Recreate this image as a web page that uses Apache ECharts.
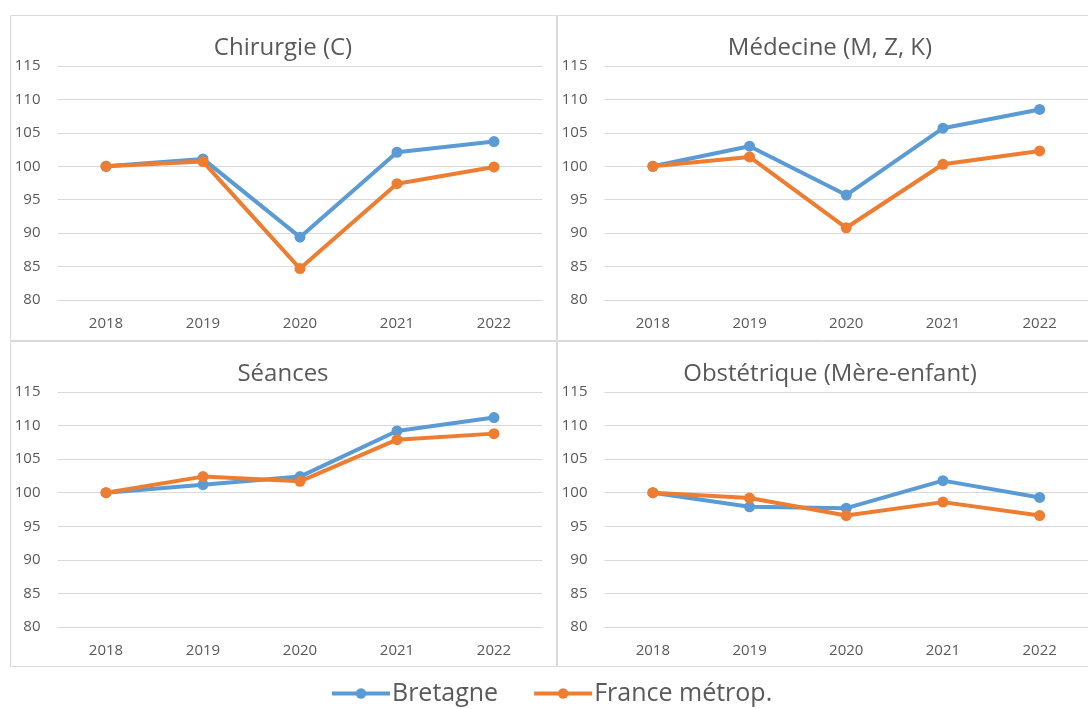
<!DOCTYPE html>
<html>
<head>
<meta charset="utf-8">
<script src="https://cdn.jsdelivr.net/npm/echarts@6/dist/echarts.min.js"></script>
<style>
  html, body { margin: 0; padding: 0; background: #fff; }
  #chart { width: 1088px; height: 709px; }
</style>
</head>
<body>
<div id="chart"></div>
<script>
// Indices base 100 en 2018
const years = ['2018', '2019', '2020', '2021', '2022'];
const panelTitles = ['Chirurgie (C)', 'Médecine (M, Z, K)', 'Séances', 'Obstétrique (Mère-enfant)'];
const seriesNames = ['Bretagne', 'France métrop.'];

const chirurgieBretagne = [100, 101.1, 89.4, 102.1, 103.7];
const chirurgieFrance   = [100, 100.7, 84.7, 97.4, 99.9];
const medecineBretagne  = [100, 103.0, 95.7, 105.7, 108.5];
const medecineFrance    = [100, 101.4, 90.8, 100.3, 102.3];
const seancesBretagne   = [100, 101.2, 102.4, 109.2, 111.2];
const seancesFrance     = [100, 102.4, 101.7, 107.9, 108.8];
const obstetBretagne    = [100, 97.9, 97.7, 101.8, 99.3];
const obstetFrance      = [100, 99.2, 96.6, 98.6, 96.6];

const yMin = 80, yMax = 115, yStep = 5;

const panelData = [
  [chirurgieBretagne, chirurgieFrance],
  [medecineBretagne, medecineFrance],
  [seancesBretagne, seancesFrance],
  [obstetBretagne, obstetFrance]
];

const colors = ['#5B9BD5', '#ED7D31'];
const textColor = '#595959';
const gridColor = '#D9D9D9';
const font = '"Open Sans", sans-serif';

// panel layout: chart-area box [left, top, width, height] and plot area
const panels = [
  { box: [10, 15, 546, 325], grid: { left: 57.5, top: 66, width: 485, height: 234 }, titleY: 36 },
  { box: [557, 15, 546, 325], grid: { left: 604.5, top: 66, width: 485, height: 234 }, titleY: 36 },
  { box: [10, 341, 546, 325], grid: { left: 57.5, top: 392, width: 485, height: 235 }, titleY: 362 },
  { box: [557, 341, 546, 325], grid: { left: 604.5, top: 392, width: 485, height: 235 }, titleY: 362 }
];

const option = {
  animation: false,
  backgroundColor: '#fff',
  textStyle: { fontFamily: font },
  title: panels.map((p, i) => ({
    text: panelTitles[i],
    left: p.box[0] + p.box[2] / 2,
    top: p.titleY,
    padding: 0,
    textAlign: 'center',
    textStyle: { fontFamily: font, fontSize: 24, fontWeight: 'normal', color: textColor }
  })),
  graphic: panels.map(p => ({
    type: 'rect',
    shape: { x: p.box[0] + 0.5, y: p.box[1] + 0.5, width: p.box[2], height: p.box[3] },
    style: { fill: 'none', stroke: '#D9D9D9', lineWidth: 1 },
    z: -1
  })),
  legend: {
    bottom: 3,
    left: 330,
    padding: 0,
    itemWidth: 58,
    itemHeight: 13,
    itemGap: 34,
    data: seriesNames,
    lineStyle: { width: 4 },
    textStyle: { fontFamily: font, fontSize: 25, color: textColor, padding: [0, 0, 0, -3] }
  },
  grid: panels.map(p => p.grid),
  xAxis: panels.map((p, i) => ({
    type: 'category',
    gridIndex: i,
    data: years,
    boundaryGap: true,
    axisLine: { lineStyle: { color: gridColor } },
    axisTick: { show: false },
    axisLabel: { color: textColor, fontSize: 15, fontFamily: font, margin: 16 }
  })),
  yAxis: panels.map((p, i) => ({
    type: 'value',
    gridIndex: i,
    min: yMin,
    max: yMax,
    interval: yStep,
    axisLine: { show: false },
    axisTick: { show: false },
    splitLine: { lineStyle: { color: gridColor, width: 1 } },
    axisLabel: { color: textColor, fontSize: 15, fontFamily: font, margin: 17 }
  })),
  series: []
};

panelData.forEach((pair, i) => {
  pair.forEach((values, j) => {
    option.series.push({
      name: seriesNames[j],
      type: 'line',
      xAxisIndex: i,
      yAxisIndex: i,
      data: values,
      symbol: 'circle',
      symbolSize: 11,
      lineStyle: { width: 4, color: colors[j] },
      itemStyle: { color: colors[j] },
      z: 2 + j
    });
  });
});

const chart = echarts.init(document.getElementById('chart'), null, { renderer: 'canvas' });
chart.setOption(option);
</script>
</body>
</html>
